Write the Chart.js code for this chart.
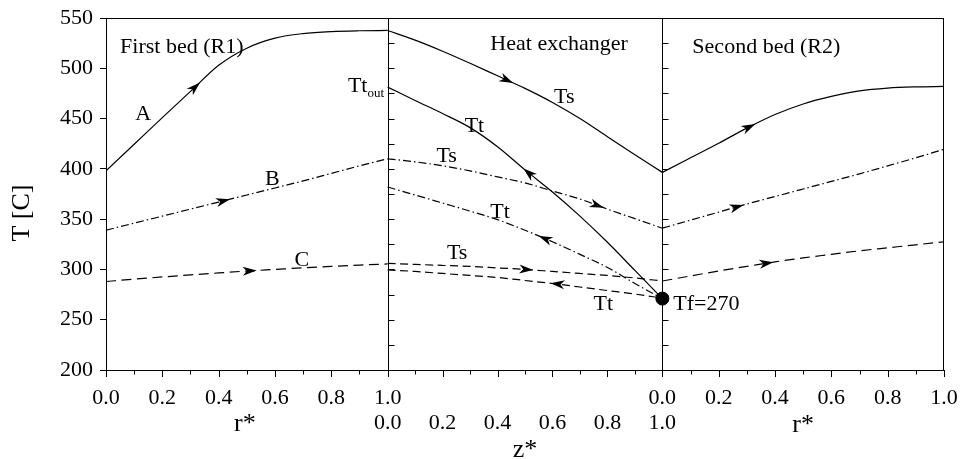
<!DOCTYPE html>
<html>
<head>
<meta charset="utf-8">
<title>Temperature profiles in the two beds and the heat exchanger</title>
<script src="https://cdn.jsdelivr.net/npm/chart.js@4.4.1/dist/chart.umd.min.js"></script>
<style>
  html, body { margin: 0; padding: 0; background: #fff; }
  #box { width: 961px; height: 459px; }
</style>
</head>
<body>
<div id="box"><canvas id="chart" width="961" height="459"></canvas></div>
<script>
// sample points along r* (beds) and z* (heat exchanger)
const pos = [0, 0.1, 0.2, 0.3, 0.4, 0.5, 0.6, 0.7, 0.8, 0.9, 1.0];

// First bed (R1): T [C] vs r*
const bed1A = [398, 424.5, 451, 477, 503, 520, 530, 534.5, 536.5, 537.3, 537.6];
const bed1B = [339, 346, 353, 360, 367, 374, 381, 388, 395.5, 403, 410];
const bed1C = [288, 290.3, 292.5, 294.6, 296.5, 298.4, 300, 301.6, 303, 304.3, 305.5];

// Heat exchanger: T [C] vs z*  (Ts shell side, Tt tube side)
const hxTsA = [537.6, 528, 517, 505, 492.5, 480, 466, 450, 432, 414, 396.5];
const hxTtA = [481.3, 468, 455, 441, 422, 399, 377, 353, 327, 299, 271];
const hxTsB = [410, 407, 403, 398, 392, 386, 378, 370, 360, 350.5, 341];
const hxTtB = [382, 374, 366, 358, 349.5, 339, 327.5, 315, 302, 286, 271];
const hxTsC = [306, 305, 304, 303, 301.5, 300, 298, 296, 294, 291.5, 288.5];
const hxTtC = [299.5, 298, 296, 294, 292, 289, 286, 282.5, 279, 275.5, 271.5];

// Second bed (R2): T [C] vs r*
const bed2A = [396.5, 411, 425.5, 440.5, 454, 464.5, 472, 477.5, 480.3, 481.5, 482];
const bed2B = [341, 349, 357, 365, 372.5, 380, 387.5, 395, 403, 411, 419.5];
const bed2C = [288.5, 293.5, 298.5, 303, 307.5, 311.5, 315, 318.5, 321.5, 324.5, 327.5];

// feed temperature at the heat exchanger tube inlet
const feedT = 271;

// tick labels
const rTickLabels = ['0.0', '', '0.2', '', '0.4', '', '0.6', '', '0.8', '', '1.0'];
const zTickLabels = ['0.0', '', '0.2', '', '0.4', '', '0.6', '', '0.8', '', '1.0'];
const tempLabels = [200, 250, 300, 350, 400, 450, 500, 550];

// the heat exchanger panel is a bit narrower than a bed panel
const HX_W = 0.9755;
const panelStart = [0, 1, 1 + HX_W];
const panelSpan = [1, HX_W, 1];
const toX = (panel, u) => panelStart[panel] + u * panelSpan[panel];

const FONT = '"Liberation Serif", "Times New Roman", serif';
const SOLID = [];
const DASHDOT = [8, 3, 1.5, 3];
const DASH = [10, 5.5];
const DASH_HX = [8, 4.5];

const series = [
  { panel: 0, y: bed1A, dash: SOLID },
  { panel: 0, y: bed1B, dash: DASHDOT },
  { panel: 0, y: bed1C, dash: DASH },
  { panel: 1, y: hxTsA, dash: SOLID },
  { panel: 1, y: hxTtA, dash: SOLID },
  { panel: 1, y: hxTsB, dash: DASHDOT },
  { panel: 1, y: hxTtB, dash: DASHDOT },
  { panel: 1, y: hxTsC, dash: DASH_HX },
  { panel: 1, y: hxTtC, dash: DASH_HX },
  { panel: 2, y: bed2A, dash: SOLID },
  { panel: 2, y: bed2B, dash: DASHDOT },
  { panel: 2, y: bed2C, dash: DASH }
];

// arrowheads: series index, position along the panel, direction
const arrows = [
  { s: 0, at: 0.334, dir: 1 }, { s: 1, at: 0.44, dir: 1 }, { s: 2, at: 0.535, dir: 1 },
  { s: 3, at: 0.457, dir: 1 }, { s: 4, at: 0.494, dir: -1 },
  { s: 5, at: 0.786, dir: 1 }, { s: 6, at: 0.55, dir: -1 },
  { s: 7, at: 0.53, dir: 1 }, { s: 8, at: 0.593, dir: -1 },
  { s: 9, at: 0.33, dir: 1 }, { s: 10, at: 0.288, dir: 1 }, { s: 11, at: 0.394, dir: 1 }
];

// text labels inside the plot: panel, position along panel, temperature of baseline
const notes = [
  { text: 'First bed (R1)', panel: 0, u: 0.05, t: 514.9, align: 'left' },
  { text: 'A', panel: 0, u: 0.1325, t: 448.6, align: 'center' },
  { text: 'B', panel: 0, u: 0.591, t: 384, align: 'center' },
  { text: 'C', panel: 0, u: 0.695, t: 303.7, align: 'center' },
  { text: 'Heat exchanger', panel: 1, u: 0.624, t: 518.2, align: 'center' },
  { text: 'Ts', panel: 1, u: 0.643, t: 465.2, align: 'center' },
  { text: 'Tt', panel: 1, u: 0.316, t: 437, align: 'center' },
  { text: 'Ts', panel: 1, u: 0.215, t: 407.1, align: 'center' },
  { text: 'Tt', panel: 1, u: 0.409, t: 350.8, align: 'center' },
  { text: 'Ts', panel: 1, u: 0.253, t: 310, align: 'center' },
  { text: 'Tt', panel: 1, u: 0.785, t: 259.7, align: 'center' },
  { text: 'Tf=270', panel: 2, u: 0.039, t: 259.7, align: 'left' },
  { text: 'Second bed (R2)', panel: 2, u: 0.1065, t: 514.9, align: 'left' }
];

// x ticks across the three panels
const xTickVals = [];
const xTickText = [];
for (let i = 0; i < 10; i++) { xTickVals.push(toX(0, pos[i])); xTickText.push(rTickLabels[i]); }
xTickVals.push(toX(1, 0)); xTickText.push([rTickLabels[10], zTickLabels[0]]);
for (let i = 1; i < 10; i++) { xTickVals.push(toX(1, pos[i])); xTickText.push(zTickLabels[i] ? ['', zTickLabels[i]] : ''); }
xTickVals.push(toX(2, 0)); xTickText.push([rTickLabels[0], zTickLabels[10]]);
for (let i = 1; i <= 10; i++) { xTickVals.push(toX(2, pos[i])); xTickText.push(rTickLabels[i]); }

function valueAt(arr, u) {
  const i = Math.min(Math.floor(u * 10), 9);
  const f = u * 10 - i;
  return arr[i] + (arr[i + 1] - arr[i]) * f;
}

const decor = {
  id: 'decor',
  afterDatasetsDraw(chart) {
    const { ctx, chartArea: a, scales: { x, y } } = chart;
    ctx.save();
    ctx.strokeStyle = '#000';
    ctx.fillStyle = '#000';
    ctx.lineWidth = 1;

    // frame: top, right, bottom axis, panel dividers
    const px = v => Math.round(x.getPixelForValue(v)) + 0.5;
    ctx.beginPath();
    ctx.moveTo(a.left, a.top + 0.5); ctx.lineTo(a.right, a.top + 0.5);
    ctx.moveTo(a.right - 0.5, a.top); ctx.lineTo(a.right - 0.5, a.bottom);
    ctx.moveTo(a.left - 0.5, a.bottom + 0.5); ctx.lineTo(a.right, a.bottom + 0.5);
    [panelStart[1], panelStart[2]].forEach(v => {
      const dx = px(v);
      ctx.moveTo(dx, a.top); ctx.lineTo(dx, a.bottom);
      for (let t = 225; t < 550; t += 25) {
        const dy = Math.round(y.getPixelForValue(t)) + 0.5;
        ctx.moveTo(dx, dy); ctx.lineTo(dx + 6, dy);
      }
    });
    // x tick marks
    xTickVals.forEach((v, i) => {
      const len = xTickText[i] ? 7 : 4.5;
      const dx = px(v);
      ctx.moveTo(dx, a.bottom); ctx.lineTo(dx, a.bottom + len);
    });
    ctx.stroke();

    // arrowheads
    arrows.forEach(ar => {
      const s = series[ar.s];
      const u2 = ar.at + 0.01 * ar.dir;
      const x1 = x.getPixelForValue(toX(s.panel, ar.at));
      const y1 = y.getPixelForValue(valueAt(s.y, ar.at));
      const x2 = x.getPixelForValue(toX(s.panel, u2));
      const y2 = y.getPixelForValue(valueAt(s.y, u2));
      const ang = Math.atan2(y2 - y1, x2 - x1);
      ctx.save();
      ctx.translate(x1, y1);
      ctx.rotate(ang);
      ctx.beginPath();
      ctx.moveTo(0, 0);
      ctx.lineTo(-14, 4.5);
      ctx.lineTo(-10, 0);
      ctx.lineTo(-14, -4.5);
      ctx.closePath();
      ctx.fill();
      ctx.restore();
    });

    // notes
    ctx.font = '22px ' + FONT;
    ctx.textBaseline = 'alphabetic';
    notes.forEach(n => {
      ctx.textAlign = n.align;
      ctx.fillText(n.text, x.getPixelForValue(toX(n.panel, n.u)), y.getPixelForValue(n.t));
    });
    // Tt_out with subscript
    const ox = x.getPixelForValue(toX(0, 0.859));
    const oy = y.getPixelForValue(476.4);
    ctx.textAlign = 'left';
    ctx.fillText('Tt', ox, oy);
    const tw = ctx.measureText('Tt').width;
    ctx.font = '13px ' + FONT;
    ctx.fillText('out', ox + tw, oy + 5);

    // axis titles
    ctx.font = '26px ' + FONT;
    ctx.textAlign = 'center';
    ctx.fillText('r*', x.getPixelForValue(toX(0, 0.5)) - 2, a.bottom + 61);
    ctx.fillText('z*', x.getPixelForValue(toX(1, 0.5)), a.bottom + 87);
    ctx.fillText('r*', x.getPixelForValue(toX(2, 0.5)), a.bottom + 62);
    ctx.save();
    ctx.translate(22.5, 213);
    ctx.rotate(-Math.PI / 2);
    ctx.textBaseline = 'middle';
    ctx.fillText('T [C]', 0, 0);
    ctx.restore();

    ctx.restore();
  }
};

const datasets = series.map(s => ({
  data: pos.map((p, i) => ({ x: toX(s.panel, p), y: s.y[i] })),
  showLine: true,
  borderColor: '#000',
  borderWidth: 1.2,
  borderDash: s.dash,
  pointRadius: 0,
  cubicInterpolationMode: 'monotone',
  fill: false
}));
datasets.push({
  data: [{ x: toX(1, 1), y: feedT }],
  showLine: false,
  pointRadius: 6.5,
  backgroundColor: '#000',
  borderColor: '#000'
});

new Chart(document.getElementById('chart'), {
  type: 'scatter',
  data: { datasets },
  options: {
    responsive: false,
    animation: false,
    events: [],
    layout: { padding: { top: 18, right: 17, left: 0, bottom: 0 } },
    plugins: { legend: { display: false }, tooltip: { enabled: false } },
    scales: {
      x: {
        type: 'linear',
        min: 0,
        max: 2 + HX_W,
        grid: { display: false, drawTicks: false },
        border: { display: false },
        afterBuildTicks: ax => { ax.ticks = xTickVals.map(v => ({ value: v })); },
        afterFit: ax => { ax.height = 89; ax.paddingLeft = 0; ax.paddingRight = 0; },
        ticks: {
          autoSkip: false,
          maxRotation: 0,
          minRotation: 0,
          padding: 15,
          color: '#000',
          font: { family: FONT, size: 22, lineHeight: 1.17 },
          callback: (v, i) => xTickText[i]
        }
      },
      y: {
        type: 'linear',
        min: 200,
        max: 550,
        afterFit: ax => { ax.width = 106; ax.paddingTop = 0; ax.paddingBottom = 0; },
        grid: { drawOnChartArea: false, tickLength: 6, color: '#000', lineWidth: 1 },
        border: { color: '#000', width: 1 },
        ticks: {
          stepSize: 25,
          padding: 7,
          color: '#000',
          font: { family: FONT, size: 22 },
          callback: v => tempLabels.includes(v) ? String(v) : ''
        }
      }
    }
  },
  plugins: [decor]
});
</script>
</body>
</html>
